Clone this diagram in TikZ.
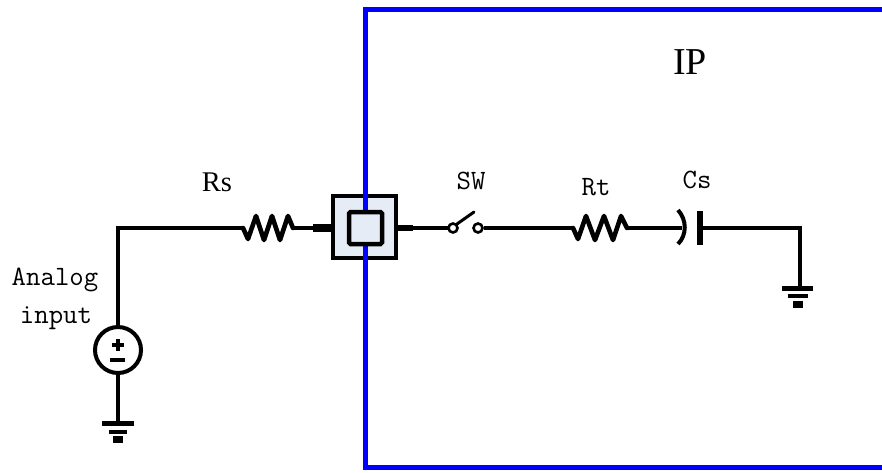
\documentclass[tikz,border=0pt]{standalone}
\usepackage{fontspec}
\newfontfamily\labserif{Liberation Serif}
\usetikzlibrary{calc}
\definecolor{padfill}{RGB}{230,236,246}
\definecolor{ipblue}{RGB}{0,0,255}
\begin{document}
\begin{tikzpicture}[x=1pt,y=-1pt,
  wire/.style={line width=4.6pt, line join=miter},
  zig/.style={line width=4.6pt, line join=round, line cap=round},
  monolab/.style={font=\ttfamily\fontsize{28}{30}\selectfont, inner sep=0pt},
  seriflab/.style={font=\labserif\fontsize{28.5}{30}\selectfont, inner sep=0pt},
  gbar/.style={line width=4.6pt},
  swcirc/.style={circle, draw, line width=2.6pt, minimum size=9pt, inner sep=0pt, fill=white}
]
\useasboundingbox (0,0) rectangle (882,472);

% ---- coordinates
\coordinate (corner) at (118,228);
\coordinate (rsL) at (243,228);
\coordinate (rsR) at (293,228);
\coordinate (padL) at (333,228);
\coordinate (padR) at (396,228);
\coordinate (swL) at (449,228);
\coordinate (rtL) at (573,228);
\coordinate (rtR) at (627,228);
\coordinate (csL) at (682,228);
\coordinate (csR) at (700,228);
\coordinate (rcorner) at (800,228);
\coordinate (gndR) at (800,288);
\coordinate (gndL) at (118,423);

% ---- source
\node[circle, draw, line width=4pt, minimum size=46pt, inner sep=0pt] (src) at (118,350) {};
\draw[line width=3.5pt] (118,339) -- (118,351) (112,345) -- (124,345);
\draw[line width=3.5pt] (110,360) -- (125,360);

% ---- wires left
\draw[wire] (src.north) -- (corner) -- (rsL);
\draw[wire] (src.south) -- (gndL);
\draw[wire] (rsR) -- (padL);
\draw[line width=8pt] (313,228) -- (padL);

% ---- Rs zigzag
\draw[zig] (rsL) -- (248,239) -- (256,216) -- (264,240) -- (272,216) -- (280,240) -- (288,216) -- (rsR);

% ---- pad outer
\draw[line width=4.5pt, fill=padfill] (333,196) rectangle (396,258);
% ---- IP boundary (blue)
\draw[ipblue, line width=5pt] (884,9.5) -- (365.5,9.5) -- (365.5,467.5) -- (884,467.5);
% ---- pad inner
\draw[line width=4.5pt, fill=padfill, rounded corners=1.5pt] (349,212) rectangle (382,244);

% ---- right of pad
\draw[wire] (padR) -- (swL);
\draw[line width=6pt] (padR) -- (413,228);
\node[swcirc] (sw1) at (453,228) {};
\node[swcirc] (sw2) at (478,228) {};
\draw[line width=3pt, line cap=round] (sw1.north east) -- (474,212);
\draw[wire] (sw2.east) -- (rtL);

% ---- Rt zigzag
\draw[zig] (rtL) -- (578,239) -- (586,216) -- (595,240) -- (604,216) -- (613,240) -- (621,216) -- (rtR);
\draw[wire] (rtR) -- (csL);

% ---- Cs
\draw[line width=4pt] (678,210) .. controls (687,220) and (687,235) .. (678,244);
\draw[line width=5.5pt] (700,211) -- (700,245);
\draw[wire] (csR) -- (rcorner) -- (gndR);

% ---- grounds
\draw[gbar] (782,288.5) -- (813,288.5);
\draw[gbar] (788,296) -- (808,296);
\draw[line width=7pt] (793,304) -- (803,304);
\draw[gbar] (102,423.5) -- (134,423.5);
\draw[gbar] (109,432) -- (127,432);
\draw[line width=7pt] (113,439.5) -- (123,439.5);

% ---- labels
\node[seriflab] (lRs) at (217,182) {Rs};
\node[monolab] (lSW) at (471,181) {SW};
\node[monolab] (lRt) at (596,187) {Rt};
\node[monolab] (lCs) at (697,180) {Cs};
\node[font=\labserif\fontsize{38}{40}\selectfont, inner sep=0pt] (lIP) at (690,62) {IP};
\node[monolab, anchor=base] (lA1) at (55,285) {Analog};
\node[monolab, anchor=base] (lA2) at (56,323) {input};
\end{tikzpicture}
\end{document}
